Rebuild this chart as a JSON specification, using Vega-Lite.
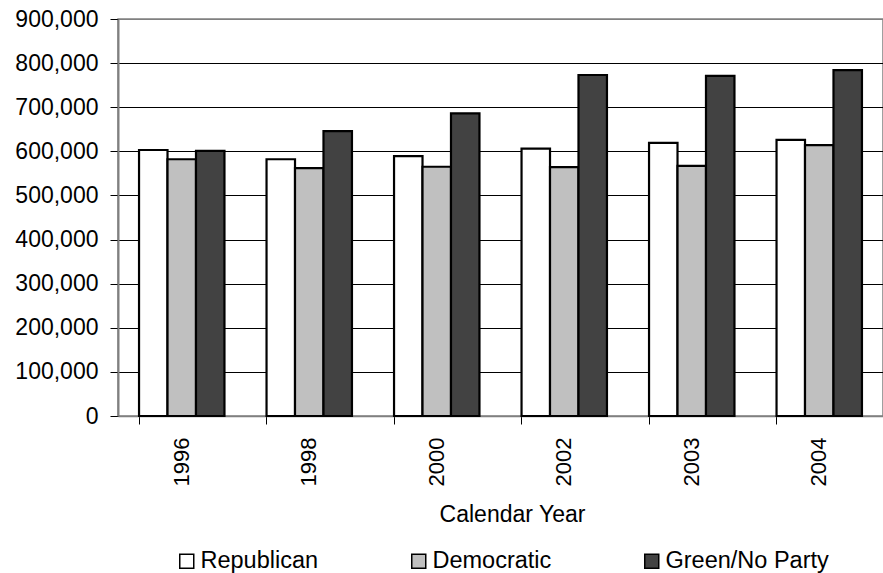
{
  "$schema": "https://vega.github.io/schema/vega-lite/v6.json",
  "width": 765,
  "height": 397,
  "autosize": {"type": "none"},
  "padding": {"left": 118, "top": 19, "right": 0, "bottom": 157},
  "background": "white",
  "config": {
    "font": "Liberation Sans",
    "view": {"stroke": "#808080", "strokeWidth": 1.5}
  },
  "data": {
    "values": [
      {"year": "1996", "party": "Republican", "value": 603000},
      {"year": "1996", "party": "Democratic", "value": 582000},
      {"year": "1996", "party": "Green/No Party", "value": 601000},
      {"year": "1998", "party": "Republican", "value": 582000},
      {"year": "1998", "party": "Democratic", "value": 562000},
      {"year": "1998", "party": "Green/No Party", "value": 646000},
      {"year": "2000", "party": "Republican", "value": 589000},
      {"year": "2000", "party": "Democratic", "value": 565000},
      {"year": "2000", "party": "Green/No Party", "value": 686000},
      {"year": "2002", "party": "Republican", "value": 606000},
      {"year": "2002", "party": "Democratic", "value": 564000},
      {"year": "2002", "party": "Green/No Party", "value": 773000},
      {"year": "2003", "party": "Republican", "value": 619000},
      {"year": "2003", "party": "Democratic", "value": 567000},
      {"year": "2003", "party": "Green/No Party", "value": 771000},
      {"year": "2004", "party": "Republican", "value": 626000},
      {"year": "2004", "party": "Democratic", "value": 614000},
      {"year": "2004", "party": "Green/No Party", "value": 784000}
    ]
  },
  "mark": {"type": "bar", "stroke": "black", "strokeWidth": 2.2},
  "encoding": {
    "x": {
      "field": "year",
      "type": "nominal",
      "scale": {"paddingInner": 0.33, "paddingOuter": 0.165},
      "axis": {
        "title": "Calendar Year",
        "titleFontSize": 23,
        "titleFontWeight": "normal",
        "titleColor": "black",
        "titlePadding": 18,
        "titleX": 394,
        "titleAlign": "center",
        "labelAngle": 270,
        "labelAlign": "right",
        "labelBaseline": "middle",
        "labelFontSize": 22,
        "labelColor": "black",
        "labelPadding": 13,
        "bandPosition": 0,
        "ticks": true,
        "tickSize": 8,
        "tickColor": "black",
        "domainColor": "#808080",
        "domainWidth": 1.5,
        "grid": false
      }
    },
    "xOffset": {
      "field": "party",
      "type": "nominal",
      "sort": ["Republican", "Democratic", "Green/No Party"],
      "scale": {"paddingInner": 0, "paddingOuter": 0}
    },
    "y": {
      "field": "value",
      "type": "quantitative",
      "scale": {"domain": [0, 900000], "nice": false},
      "axis": {
        "title": null,
        "values": [0, 100000, 200000, 300000, 400000, 500000, 600000, 700000, 800000, 900000],
        "format": ",.0f",
        "labelFontSize": 23,
        "labelColor": "black",
        "labelPadding": 12,
        "tickSize": 8,
        "tickColor": "black",
        "domainColor": "#808080",
        "domainWidth": 2,
        "grid": true,
        "gridColor": {"condition": {"test": "datum.value >= 900000", "value": "#808080"}, "value": "black"},
        "gridWidth": 1,
        "gridOpacity": 1
      }
    },
    "color": {
      "field": "party",
      "type": "nominal",
      "sort": ["Republican", "Democratic", "Green/No Party"],
      "scale": {
        "domain": ["Republican", "Democratic", "Green/No Party"],
        "range": ["#FFFFFF", "#C0C0C0", "#424242"]
      },
      "legend": {
        "title": null,
        "orient": "none",
        "direction": "horizontal",
        "legendX": 57,
        "legendY": 530,
        "symbolType": "square",
        "symbolSize": 196,
        "symbolStrokeColor": "black",
        "symbolStrokeWidth": 1.5,
        "symbolOpacity": 1,
        "labelFontSize": 23.5,
        "labelColor": "black",
        "labelOffset": 2,
        "columnPadding": 88,
        "gridAlign": "each",
        "labelLimit": 300
      }
    }
  }
}
